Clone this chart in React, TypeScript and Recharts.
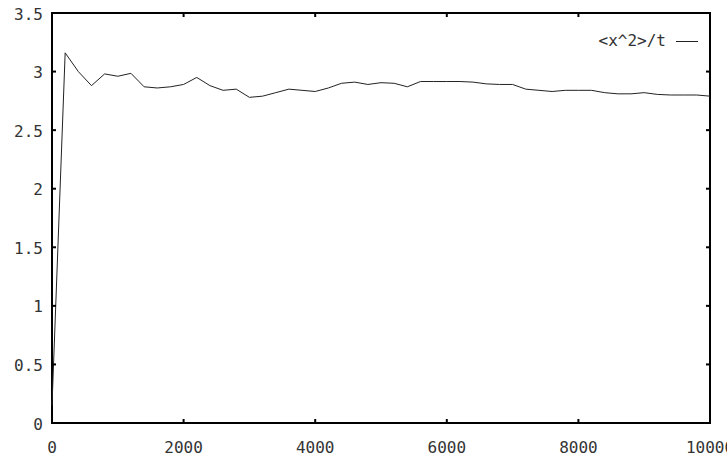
import React from 'react';
import {
  LineChart,
  Line,
  XAxis,
  YAxis,
  ReferenceArea,
} from 'recharts';

// sample times (every 200 steps) and the running <x^2>/t estimate
const times = [
  0, 200, 400, 600, 800, 1000, 1200, 1400, 1600, 1800, 2000, 2200, 2400, 2600,
  2800, 3000, 3200, 3400, 3600, 3800, 4000, 4200, 4400, 4600, 4800, 5000, 5200,
  5400, 5600, 5800, 6000, 6200, 6400, 6600, 6800, 7000, 7200, 7400, 7600, 7800,
  8000, 8200, 8400, 8600, 8800, 9000, 9200, 9400, 9600, 9800, 10000,
];
const msdOverT = [
  0.15, 3.16, 3.0, 2.88, 2.98, 2.96, 2.985, 2.87, 2.86, 2.87, 2.89, 2.95, 2.88,
  2.84, 2.85, 2.78, 2.79, 2.82, 2.85, 2.84, 2.83, 2.86, 2.9, 2.91, 2.89, 2.905,
  2.9, 2.87, 2.915, 2.915, 2.915, 2.915, 2.91, 2.895, 2.89, 2.89, 2.85, 2.84,
  2.83, 2.84, 2.84, 2.84, 2.82, 2.81, 2.81, 2.82, 2.805, 2.8, 2.8, 2.8, 2.79,
];
const xTicks = [0, 2000, 4000, 6000, 8000, 10000];
const yTicks = [0, 0.5, 1, 1.5, 2, 2.5, 3, 3.5];
const seriesName = '<x^2>/t';

const data = times.map((t, i) => ({ t, v: msdOverT[i] }));

const W = 727;
const H = 459;
const LEFT = 52;
const RIGHT = 710;
const TOP = 13;
const BOTTOM = 423;
const FONT = '"DejaVu Sans Mono", "Liberation Mono", monospace';
const TICK_LEN = 4;

function XTick(props: any) {
  const { x, payload } = props;
  return (
    <g>
      <line x1={x} x2={x} y1={BOTTOM} y2={BOTTOM - TICK_LEN} stroke="#000" strokeWidth={2} />
      <line x1={x} x2={x} y1={TOP} y2={TOP + TICK_LEN} stroke="#000" strokeWidth={2} />
      <text
        x={x}
        y={447}
        textAnchor="middle"
        dominantBaseline="central"
        fontFamily={FONT}
        fontSize={16}
        fill="#333"
      >
        {payload.value}
      </text>
    </g>
  );
}

function YTick(props: any) {
  const { y, payload } = props;
  return (
    <g>
      <line x1={LEFT} x2={LEFT + TICK_LEN} y1={y} y2={y} stroke="#000" strokeWidth={2} />
      <line x1={RIGHT} x2={RIGHT - TICK_LEN} y1={y} y2={y} stroke="#000" strokeWidth={2} />
      <text
        x={LEFT - 9}
        y={y + 1}
        textAnchor="end"
        dominantBaseline="central"
        fontFamily={FONT}
        fontSize={16}
        fill="#333"
      >
        {payload.value}
      </text>
    </g>
  );
}

// gnuplot-style key in the top right corner, kept out of the chart layout
function KeyBox() {
  return (
    <div
      style={{
        position: 'absolute',
        top: 31,
        right: 29,
        display: 'flex',
        alignItems: 'center',
        fontFamily: FONT,
        fontSize: 16,
        lineHeight: '20px',
        color: '#333',
        whiteSpace: 'nowrap',
      }}
    >
      <span>{seriesName}</span>
      <span
        style={{
          display: 'inline-block',
          width: 22,
          height: 0,
          borderTop: '1px solid #222',
          marginLeft: 10,
        }}
      />
    </div>
  );
}

export default function App() {
  return (
    <div style={{ position: 'absolute', left: 0, top: 0, width: W, height: H, background: '#fff' }}>
      <LineChart
        width={W}
        height={H}
        data={data}
        margin={{ top: TOP, right: W - RIGHT, bottom: 0, left: 0 }}
      >
        <XAxis
          dataKey="t"
          type="number"
          domain={[0, 10000]}
          ticks={xTicks}
          interval={0}
          height={H - BOTTOM}
          axisLine={false}
          tickLine={false}
          tick={<XTick />}
        />
        <YAxis
          type="number"
          domain={[0, 3.5]}
          ticks={yTicks}
          interval={0}
          width={LEFT}
          axisLine={false}
          tickLine={false}
          tick={<YTick />}
        />
        <ReferenceArea
          x1={0}
          x2={10000}
          y1={0}
          y2={3.5}
          fill="none"
          fillOpacity={0}
          stroke="#000"
          strokeWidth={2}
        />
        <Line
          type="linear"
          dataKey="v"
          name={seriesName}
          stroke="#222"
          strokeWidth={1}
          dot={false}
          isAnimationActive={false}
        />
      </LineChart>
      <KeyBox />
    </div>
  );
}
